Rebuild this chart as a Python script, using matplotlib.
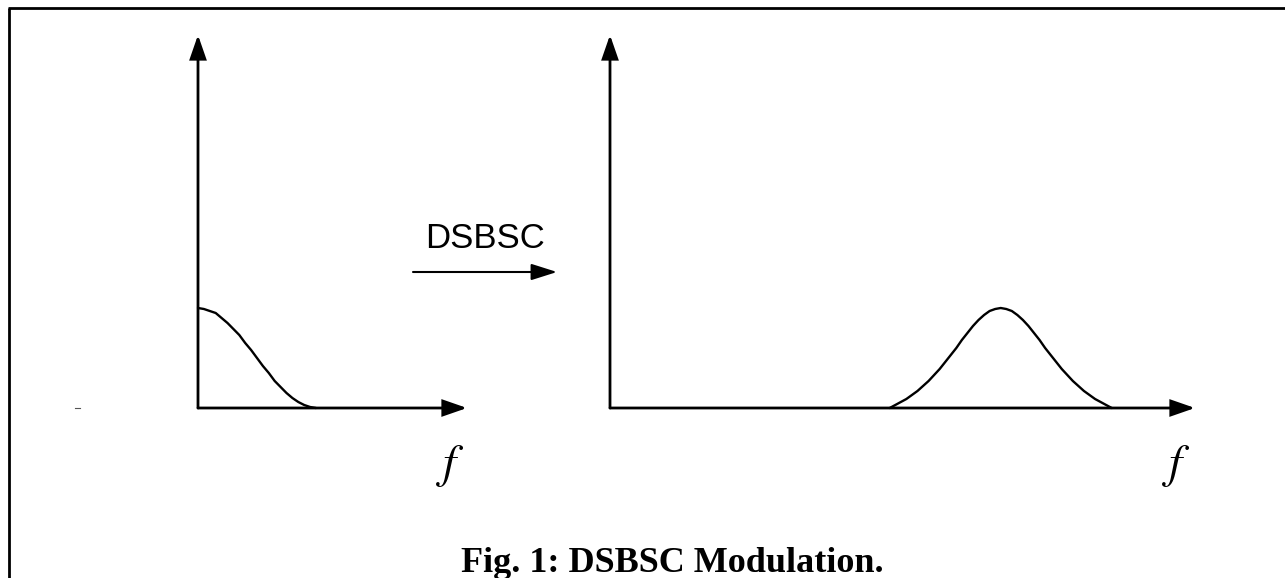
import matplotlib
matplotlib.use("Agg")
import matplotlib.pyplot as plt

# ---------------- data ----------------
# baseband spectrum (message), frequency in units of bandwidth W
baseband_f = [0.00, 0.05, 0.10, 0.15, 0.20, 0.25, 0.30, 0.35, 0.40, 0.45, 0.50,
              0.55, 0.60, 0.65, 0.70, 0.75, 0.80, 0.85, 0.90, 0.95, 1.00]
baseband_amp = [1.00, 0.99, 0.97, 0.95, 0.90, 0.85, 0.79, 0.73, 0.65, 0.58, 0.50,
                0.42, 0.35, 0.27, 0.21, 0.15, 0.10, 0.06, 0.03, 0.01, 0.00]

# DSBSC spectrum, centred on the carrier
passband_f = [2.52, 2.57, 2.62, 2.67, 2.72, 2.77, 2.82, 2.87, 2.92, 2.97, 3.02,
              3.07, 3.12, 3.17, 3.22, 3.27, 3.32, 3.37, 3.42, 3.47, 3.52,
              3.57, 3.62, 3.67, 3.72, 3.77, 3.82, 3.87, 3.92, 3.97, 4.02,
              4.07, 4.12, 4.17, 4.22, 4.27, 4.32, 4.37, 4.42, 4.47, 4.52]
passband_amp = [0.00, 0.03, 0.06, 0.09, 0.13, 0.17, 0.22, 0.27, 0.33, 0.39, 0.46,
                0.53, 0.60, 0.68, 0.75, 0.82, 0.88, 0.93, 0.97, 0.99, 1.00,
                0.99, 0.97, 0.93, 0.88, 0.82, 0.75, 0.68, 0.60, 0.53, 0.46,
                0.39, 0.33, 0.27, 0.22, 0.17, 0.13, 0.09, 0.06, 0.03, 0.00]

axis_label = r"$f$"
arrow_label = "DSBSC"
caption = "Fig. 1: DSBSC Modulation."

# ---------------- layout ----------------
W, H = 1285, 578
fig = plt.figure(figsize=(W / 100, H / 100), dpi=100)
fig.patch.set_facecolor("white")

base = fig.add_axes([0, 0, 1, 1])
base.set_xlim(0, W)
base.set_ylim(H, 0)
base.axis("off")

AX_LW = 2.0
CURVE_LW = 1.7


def panel(x0, y0, xtip, ytip, px_per_f, px_per_a):
    ax = fig.add_axes([x0 / W, 1 - y0 / H, (xtip - x0) / W, (y0 - ytip) / H])
    ax.set_xlim(0, (xtip - x0) / px_per_f)
    ax.set_ylim(0, (y0 - ytip) / px_per_a)
    ax.axis("off")
    arrow = dict(arrowstyle="-|>,head_length=14.4,head_width=5.0",
                 mutation_scale=1, lw=AX_LW, color="black", fc="black",
                 shrinkA=0, shrinkB=0, joinstyle="miter")
    ax.annotate("", xy=(1, 0), xytext=(0, 0), xycoords="axes fraction",
                textcoords="axes fraction", arrowprops=arrow)
    ax.annotate("", xy=(0, 1), xytext=(0, 0), xycoords="axes fraction",
                textcoords="axes fraction", arrowprops=arrow)
    return ax


left = panel(198, 408, 467, 35, 118, 100)
left.plot(baseband_f, baseband_amp, color="black", lw=CURVE_LW,
          solid_capstyle="round", solid_joinstyle="round", clip_on=False)

right = panel(610, 408, 1195, 35, 111, 100)
right.plot(passband_f, passband_amp, color="black", lw=CURVE_LW,
           solid_capstyle="round", solid_joinstyle="round", clip_on=False)

# frame
base.plot([9, 9], [7.7, H + 5], color="black", lw=2.0, clip_on=False,
          solid_capstyle="butt")
base.plot([8, W + 5], [7.7, 7.7], color="black", lw=2.0, clip_on=False,
          solid_capstyle="butt")

# small stray mark
base.plot([75, 80], [408, 408], color="#555555", lw=0.8)

# f labels
for xc in (450, 1176):
    base.text(xc, 477, axis_label, fontsize=34, math_fontfamily="stix",
              ha="center", va="baseline")

# DSBSC arrow
base.text(485, 248, arrow_label, fontsize=25, family="Liberation Sans",
          ha="center", va="baseline")
base.annotate("", xy=(557, 272), xytext=(413, 272),
              arrowprops=dict(arrowstyle="-|>,head_length=15.8,head_width=5.0",
                              mutation_scale=1, lw=1.5, color="black",
                              fc="black", shrinkA=0, shrinkB=0))

# caption
base.text(672, 572, caption, fontsize=26, family="Liberation Serif",
          weight="bold", ha="center", va="baseline")

fig.savefig("out.png", dpi=100, facecolor="white")
